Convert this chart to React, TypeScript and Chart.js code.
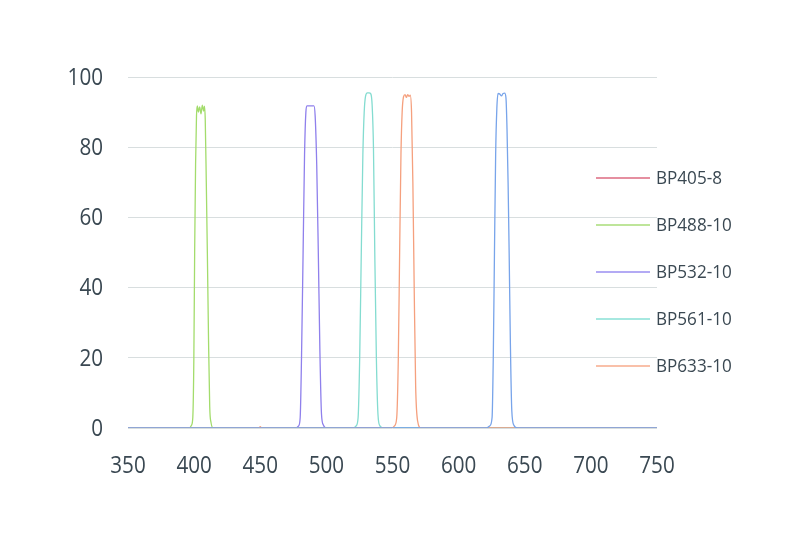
import React, { useEffect, useRef } from "react";
import { Chart, registerables } from "chart.js";

Chart.register(...registerables);

// ---------- data ----------
const xTicks = [350, 400, 450, 500, 550, 600, 650, 700, 750];
const yTicks = [0, 20, 40, 60, 80, 100];

const legendLabels = ["BP405-8", "BP488-10", "BP532-10", "BP561-10", "BP633-10"];
const legendColors = ["#dc6a80", "#a9dd78", "#9a8ef0", "#88e0d6", "#f7ab8c"];

// series colours as drawn in the plot
const redColor = "#dc6a80";
const greenColor = "#a3dc6c";
const purpleColor = "#8f80ec";
const cyanColor = "#84dcd0";
const orangeColor = "#f5a07e";
const blueColor = "#78a4ea";

const redX = [350, 750];
const redY = [0, 0];

const greenX = [350, 396.5, 398, 399, 399.8, 400.4, 401.1, 401.8, 402.4, 403.2, 404.2, 405.2, 406.2, 407.2, 407.8, 408.4, 409.2, 410, 410.9, 411.8, 412.8, 414.5, 750];
const greenY = [0, 0, 0.8, 3, 20, 50, 75, 89, 91.8, 90, 91.5, 89.5, 92, 90.3, 91.7, 88, 70, 50, 25, 6, 1.5, 0, 0];

const purpleX = [350, 477, 479, 480.2, 481.2, 482.4, 483.5, 484.5, 485.3, 488, 490.6, 491.5, 492.7, 493.9, 495.1, 496.3, 497.8, 500, 750];
const purpleY = [0, 0, 0.6, 3, 20, 50, 78, 90, 91.8, 91.8, 91.8, 89, 75, 50, 22, 4, 0.8, 0, 0];

const cyanX = [350, 520.5, 522.5, 524, 525.2, 526.4, 527.6, 528.6, 529.6, 531, 532.3, 533.6, 534.6, 535.6, 536.6, 537.8, 539, 540.5, 543, 750];
const cyanY = [0, 0, 0.6, 3, 20, 50, 78, 90, 94.5, 95.5, 95.5, 95.2, 92, 80, 50, 20, 4, 0.6, 0, 0];

const orangeX = [350, 449, 450, 451, 549.5, 551.5, 553.2, 554.4, 555.4, 556.4, 557.3, 558.3, 559.5, 560.5, 561.5, 562.5, 563.4, 564.4, 565.4, 566.4, 567.5, 569, 571.5, 750];
const orangeY = [0, 0, 0.4, 0, 0, 0.6, 3, 20, 50, 78, 90, 94.3, 95, 94.2, 95, 94.5, 94.8, 90, 70, 40, 12, 2, 0, 0];

const blueX = [350, 621, 623.5, 625.3, 626.2, 627.1, 628, 628.9, 629.8, 631, 632.4, 633.6, 634.8, 635.8, 636.6, 637.4, 638.2, 639.1, 640.2, 641.8, 644.5, 750];
const blueY = [0, 0, 0.6, 3, 20, 50, 78, 91, 95.3, 95.2, 94.6, 95.3, 95.4, 94, 85, 70, 50, 25, 5, 0.8, 0, 0];

const TEXT_COLOR = "#3a4852";
const GRID_COLOR = "#d8dedf";

function toPoints(xs: number[], ys: number[]) {
  return xs.map((x, i) => ({ x, y: ys[i] }));
}

const labelPlugin = {
  id: "customLabels",
  afterDraw(chart: any) {
    const ctx = chart.ctx as CanvasRenderingContext2D;
    const xs = chart.scales.x;
    const ys = chart.scales.y;
    const area = chart.chartArea;
    ctx.save();
    ctx.fillStyle = TEXT_COLOR;
    ctx.font = "24px 'Open Sans'";
    ctx.textBaseline = "middle";
    // y tick labels
    ctx.textAlign = "right";
    yTicks.forEach((v) => {
      const py = ys.getPixelForValue(v);
      ctx.save();
      ctx.translate(area.left - 25, py + 1);
      ctx.scale(0.86, 1);
      ctx.fillText(String(v), 0, 0);
      ctx.restore();
    });
    // x tick labels
    ctx.textAlign = "center";
    xTicks.forEach((v) => {
      const px = xs.getPixelForValue(v);
      ctx.save();
      ctx.translate(px, area.bottom + 38);
      ctx.scale(0.86, 1);
      ctx.fillText(String(v), 0, 0);
      ctx.restore();
    });
    // legend
    ctx.font = "19px 'Open Sans'";
    ctx.textAlign = "left";
    legendLabels.forEach((lab, i) => {
      const y = 178 + i * 47;
      ctx.strokeStyle = legendColors[i];
      ctx.lineWidth = 1.4;
      ctx.beginPath();
      ctx.moveTo(596, y);
      ctx.lineTo(650, y);
      ctx.stroke();
      ctx.save();
      ctx.translate(656, y + 1);
      ctx.scale(0.9, 1);
      ctx.fillText(lab, 0, 0);
      ctx.restore();
    });
    ctx.restore();
  },
};

export default function App() {
  const ref = useRef<HTMLCanvasElement | null>(null);
  useEffect(() => {
    document.body.style.margin = "0";
    if (!ref.current) return;
    const mk = (label: string, color: string, xs: number[], ys: number[], order: number) => ({
      label,
      data: toPoints(xs, ys),
      borderColor: color,
      backgroundColor: color,
      borderWidth: 1.3,
      pointRadius: 0,
      fill: false,
      cubicInterpolationMode: "monotone" as const,
      order,
    });
    const chart = new Chart(ref.current, {
      type: "line",
      data: {
        datasets: [
          mk(legendLabels[0], redColor, redX, redY, 5),
          mk(legendLabels[1], greenColor, greenX, greenY, 4),
          mk(legendLabels[2], purpleColor, purpleX, purpleY, 3),
          mk(legendLabels[3], cyanColor, cyanX, cyanY, 2),
          mk(legendLabels[4], orangeColor, orangeX, orangeY, 1),
          mk("", blueColor, blueX, blueY, 0),
        ],
      },
      options: {
        animation: false,
        responsive: false,
        parsing: true,
        layout: { padding: { left: 128, right: 143, top: 77, bottom: 132 } },
        plugins: { legend: { display: false }, tooltip: { enabled: false } },
        scales: {
          x: {
            type: "linear",
            min: 350,
            max: 750,
            grid: { display: false, drawTicks: false },
            border: { display: false },
            ticks: { display: false, stepSize: 50 },
          },
          y: {
            min: 0,
            max: 100,
            grid: { color: GRID_COLOR, lineWidth: 1, drawTicks: false },
            border: { display: false },
            ticks: { display: false, stepSize: 20 },
          },
        },
      },
      plugins: [labelPlugin],
    });
    return () => chart.destroy();
  }, []);
  return (
    <div style={{ width: 800, height: 560, background: "#ffffff" }}>
      <canvas ref={ref} width={800} height={560} style={{ display: "block" }} />
    </div>
  );
}
